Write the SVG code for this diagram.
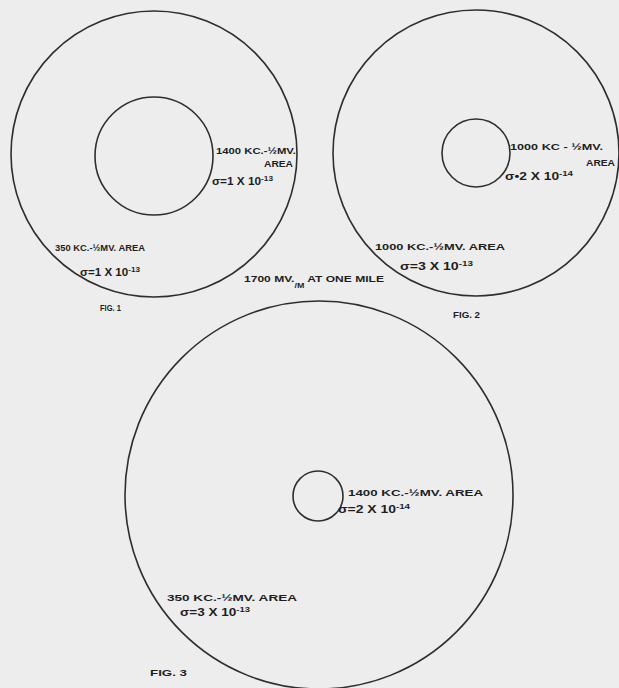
<svg xmlns="http://www.w3.org/2000/svg" width="619" height="688" viewBox="0 0 619 688">
<style>
.c{fill:none;stroke:#2e2e2e;stroke-width:1.6}
.t{font-family:"Liberation Sans",Arial,sans-serif;font-size:9.5px;font-weight:bold;fill:#1e1e1e}
.g{font-size:10px}
.s{font-size:7px}
</style>
<rect x="0" y="0" width="619" height="688" fill="#ededed"/>
<g id="fig1">
<circle class="c" cx="154" cy="154" r="143"/>
<circle class="c" cx="154" cy="156" r="59"/>
<text class="t" x="216" y="154" textLength="80" lengthAdjust="spacingAndGlyphs">1400 KC.-½MV.</text>
<text class="t" x="264" y="167" textLength="29" lengthAdjust="spacingAndGlyphs">AREA</text>
<text class="t g" x="212" y="185" textLength="61" lengthAdjust="spacingAndGlyphs">σ=1 X 10<tspan class="s" dy="-4">-13</tspan></text>
<text class="t" x="55" y="251" textLength="90" lengthAdjust="spacingAndGlyphs">350 KC.-½MV. AREA</text>
<text class="t g" x="80" y="276" textLength="60" lengthAdjust="spacingAndGlyphs">σ=1 X 10<tspan class="s" dy="-4">-13</tspan></text>
<text class="t" x="100" y="311" textLength="21" lengthAdjust="spacingAndGlyphs">FIG. 1</text>
</g>
<g id="fig2">
<circle class="c" cx="476" cy="153" r="143"/>
<circle class="c" cx="476" cy="153" r="34"/>
<text class="t" x="510" y="150" textLength="93" lengthAdjust="spacingAndGlyphs">1000 KC - ½MV.</text>
<text class="t" x="586" y="166" textLength="29" lengthAdjust="spacingAndGlyphs">AREA</text>
<text class="t g" x="505" y="180" textLength="68" lengthAdjust="spacingAndGlyphs">σ•2 X 10<tspan class="s" dy="-4">-14</tspan></text>
<text class="t" x="375" y="250" textLength="130" lengthAdjust="spacingAndGlyphs">1000 KC.-½MV. AREA</text>
<text class="t g" x="400" y="270" textLength="73" lengthAdjust="spacingAndGlyphs">σ=3 X 10<tspan class="s" dy="-4">-13</tspan></text>
<text class="t" x="453" y="318" textLength="27" lengthAdjust="spacingAndGlyphs">FIG. 2</text>
</g>
<g id="field-label">
<text class="t" x="244" y="282" textLength="140" lengthAdjust="spacingAndGlyphs">1700 MV.<tspan class="s" dy="6">/M</tspan><tspan dy="-6"> AT ONE MILE</tspan></text>
</g>
<g id="fig3">
<circle class="c" cx="319" cy="495" r="194"/>
<circle class="c" cx="318" cy="496" r="25"/>
<text class="t" x="348" y="496" textLength="135" lengthAdjust="spacingAndGlyphs">1400 KC.-½MV. AREA</text>
<text class="t g" x="338" y="513" textLength="72" lengthAdjust="spacingAndGlyphs">σ=2 X 10<tspan class="s" dy="-4">-14</tspan></text>
<text class="t" x="167" y="601" textLength="130" lengthAdjust="spacingAndGlyphs">350 KC.-½MV. AREA</text>
<text class="t g" x="180" y="616" textLength="70" lengthAdjust="spacingAndGlyphs">σ=3 X 10<tspan class="s" dy="-4">-13</tspan></text>
<text class="t" x="150" y="676" textLength="37" lengthAdjust="spacingAndGlyphs">FIG. 3</text>
</g>
<g id="connectors"/>
</svg>
